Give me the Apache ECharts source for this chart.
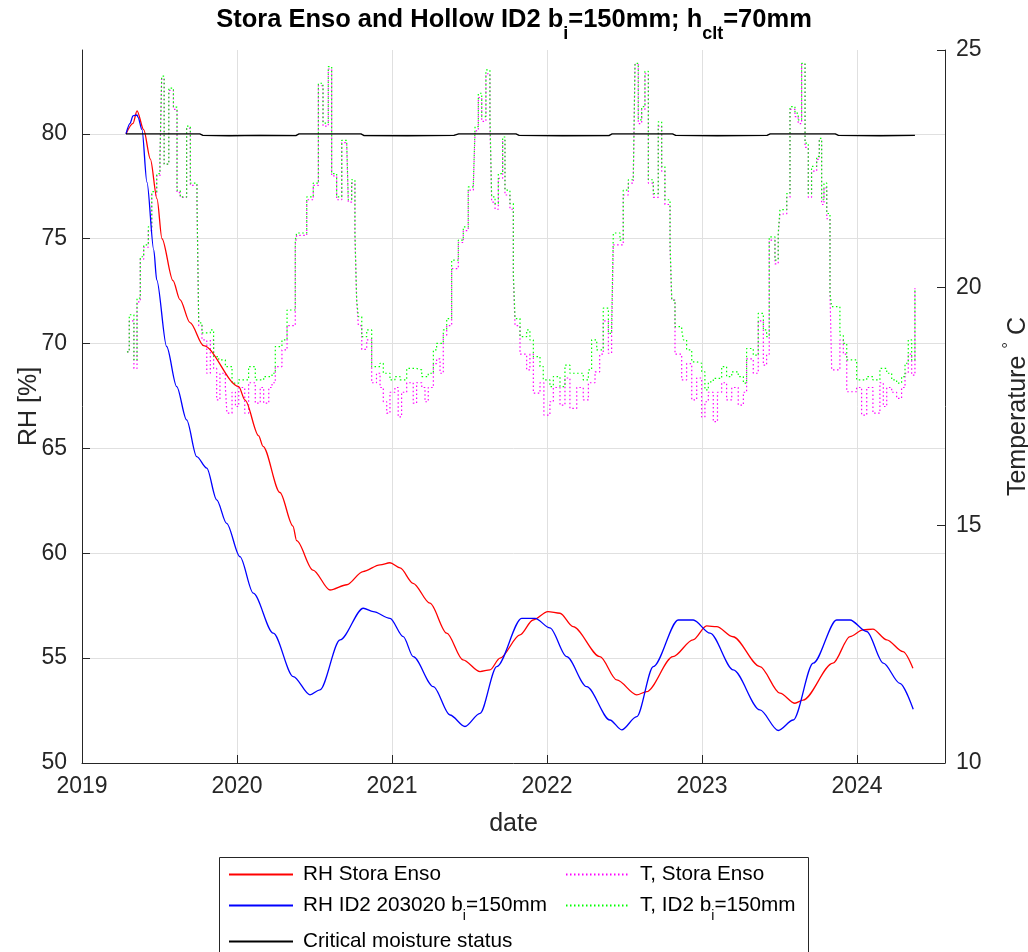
<!DOCTYPE html>
<html><head><meta charset="utf-8">
<script src="https://cdn.jsdelivr.net/npm/echarts@6/dist/echarts.min.js"></script>
<style>html,body{margin:0;padding:0;background:#fff}#c{width:1028px;height:952px}</style>
</head><body><div id="c"></div>
<script>
// x values are decimal years
const xTickYears = [2019, 2020, 2021, 2022, 2023, 2024];
const leftTicks = [50, 55, 60, 65, 70, 75, 80];
const rightTicks = [10, 15, 20, 25];

const rhStora = [
 [2019.284,80.0],[2019.329,80.5],[2019.355,81.1],[2019.398,80.2],[2019.441,78.8],[2019.484,76.9],
 [2019.516,75.0],[2019.587,73.0],[2019.632,72.1],[2019.697,71.0],[2019.785,69.9],[2020.011,67.95],
 [2020.052,67.3],[2020.140,65.6],[2020.168,65.1],[2020.277,62.9],[2020.361,61.3],[2020.385,60.6],
 [2020.490,59.2],[2020.600,58.25],[2020.708,58.5],[2020.813,59.13],[2020.923,59.45],[2020.987,59.55],
 [2021.052,59.3],[2021.136,58.57],[2021.245,57.62],[2021.353,56.19],[2021.458,54.92],[2021.568,54.36],
 [2021.632,54.44],[2021.697,55.0],[2021.826,56.11],[2021.910,56.82],[2022.006,57.22],[2022.084,57.14],
 [2022.168,56.5],[2022.342,55.07],[2022.450,53.96],[2022.579,53.25],[2022.643,53.4],[2022.813,55.07],
 [2022.942,55.87],[2023.030,56.54],[2023.095,56.5],[2023.200,56.02],[2023.374,54.6],[2023.503,53.33],
 [2023.600,52.85],[2023.652,53.0],[2023.845,54.76],[2023.955,56.03],[2024.039,56.35],[2024.103,56.38],
 [2024.192,55.87],[2024.297,55.31],[2024.361,54.52]
];

const rhId2 = [
 [2019.284,80.0],[2019.310,80.5],[2019.329,80.86],[2019.355,80.9],[2019.361,80.8],[2019.387,80.2],
 [2019.419,77.7],[2019.463,74.47],[2019.482,73.04],[2019.546,69.86],[2019.611,67.95],[2019.675,66.36],
 [2019.740,64.61],[2019.805,64.06],[2019.869,62.55],[2019.933,61.43],[2020.019,59.84],[2020.105,58.1],
 [2020.234,56.19],[2020.363,54.12],[2020.471,53.25],[2020.535,53.49],[2020.665,55.87],[2020.815,57.38],
 [2020.879,57.22],[2020.987,56.9],[2021.073,56.03],[2021.137,55.07],[2021.267,53.64],[2021.374,52.29],
 [2021.471,51.74],[2021.568,52.37],[2021.676,54.6],[2021.837,56.9],[2021.923,56.9],[2022.019,56.44],
 [2022.127,55.07],[2022.256,53.64],[2022.406,52.05],[2022.482,51.58],[2022.579,52.21],[2022.686,54.6],
 [2022.847,56.82],[2022.944,56.82],[2023.052,56.19],[2023.202,54.44],[2023.374,52.53],[2023.492,51.55],
 [2023.589,52.05],[2023.718,54.76],[2023.869,56.82],[2023.955,56.82],[2024.063,56.27],[2024.170,54.76],
 [2024.277,53.8],[2024.363,52.56]
];

const critical = [
 [2019.284,80.0],[2019.760,80.0],[2019.780,79.93],[2019.950,79.91],[2020.150,79.93],[2020.380,79.92],
 [2020.400,80.0],[2020.800,80.0],[2020.820,79.92],[2021.100,79.91],[2021.400,79.93],[2021.430,80.0],
 [2021.800,80.0],[2021.820,79.93],[2022.100,79.91],[2022.400,79.92],[2022.420,80.0],[2022.810,80.0],
 [2022.830,79.93],[2023.100,79.91],[2023.420,79.93],[2023.440,80.0],[2023.860,80.0],[2023.880,79.93],
 [2024.150,79.91],[2024.374,79.93]
];

const tStora = [
 [2019.290,18.65],[2019.305,19.3],[2019.335,18.3],[2019.355,19.7],[2019.376,20.6],[2019.398,20.85],
 [2019.428,21.2],[2019.450,21.95],[2019.482,22.35],[2019.503,22.7],[2019.514,24.4],[2019.530,22.6],
 [2019.560,24.15],[2019.590,23.75],[2019.613,22.0],[2019.634,21.9],[2019.675,23.35],[2019.699,22.15],
 [2019.742,21.8],[2019.753,19.2],[2019.774,18.9],[2019.805,18.2],[2019.828,18.9],[2019.849,18.3],
 [2019.869,17.64],[2019.890,18.2],[2019.925,17.9],[2019.935,17.36],[2019.968,17.8],[2019.990,17.5],
 [2020.011,17.9],[2020.050,17.36],[2020.075,18.0],[2020.118,17.57],[2020.150,17.9],[2020.172,17.57],
 [2020.205,17.9],[2020.226,18.0],[2020.247,18.34],[2020.290,18.69],[2020.323,19.2],[2020.376,20.9],
 [2020.385,21.1],[2020.450,21.85],[2020.492,22.15],[2020.525,24.25],[2020.555,23.4],[2020.589,24.6],
 [2020.611,22.35],[2020.643,21.85],[2020.676,23.05],[2020.708,23.0],[2020.718,21.8],[2020.740,22.2],
 [2020.761,21.1],[2020.772,19.74],[2020.783,19.2],[2020.805,18.7],[2020.837,18.9],[2020.869,18.0],
 [2020.900,18.2],[2020.923,17.9],[2020.944,17.6],[2020.966,17.36],[2020.987,17.8],[2021.019,17.9],
 [2021.040,17.28],[2021.062,17.8],[2021.095,18.0],[2021.137,17.57],[2021.159,18.0],[2021.192,17.9],
 [2021.213,17.6],[2021.234,17.9],[2021.267,18.4],[2021.288,18.5],[2021.310,18.2],[2021.331,19.0],
 [2021.353,19.2],[2021.385,20.4],[2021.428,20.95],[2021.460,21.2],[2021.492,22.05],[2021.525,22.15],
 [2021.536,23.3],[2021.557,24.0],[2021.579,23.5],[2021.606,24.5],[2021.632,23.5],[2021.643,21.8],
 [2021.665,21.65],[2021.686,22.3],[2021.714,23.1],[2021.729,21.95],[2021.761,21.65],[2021.783,20.2],
 [2021.794,19.2],[2021.826,18.6],[2021.869,18.27],[2021.890,18.6],[2021.912,17.78],[2021.955,18.0],
 [2021.980,17.32],[2022.019,17.6],[2022.041,17.9],[2022.084,17.53],[2022.116,18.1],[2022.148,17.46],
 [2022.192,17.9],[2022.234,17.64],[2022.267,18.0],[2022.310,18.23],[2022.340,18.6],[2022.363,19.3],
 [2022.396,18.62],[2022.417,19.0],[2022.428,20.9],[2022.471,20.9],[2022.492,21.95],[2022.525,22.2],
 [2022.557,22.3],[2022.568,24.7],[2022.589,23.45],[2022.611,23.75],[2022.632,24.5],[2022.654,22.2],
 [2022.686,21.9],[2022.718,23.4],[2022.740,22.45],[2022.761,21.75],[2022.794,20.85],[2022.805,19.74],
 [2022.826,18.6],[2022.869,18.06],[2022.901,18.4],[2022.934,17.64],[2022.966,18.1],[2022.998,17.28],
 [2023.019,17.6],[2023.041,17.8],[2023.073,17.18],[2023.100,17.8],[2023.127,18.0],[2023.159,17.64],
 [2023.192,17.9],[2023.234,17.53],[2023.267,17.8],[2023.288,18.5],[2023.331,18.2],[2023.363,19.3],
 [2023.396,18.37],[2023.417,18.6],[2023.434,21.0],[2023.471,20.5],[2023.492,21.1],[2023.503,21.55],
 [2023.547,21.9],[2023.568,23.75],[2023.600,23.6],[2023.621,23.45],[2023.643,24.7],[2023.665,22.95],
 [2023.686,21.9],[2023.707,22.45],[2023.740,22.7],[2023.757,23.1],[2023.772,21.75],[2023.787,22.1],
 [2023.805,21.45],[2023.826,19.88],[2023.837,18.27],[2023.890,18.9],[2023.912,18.6],[2023.934,17.81],
 [2023.998,17.9],[2024.030,17.32],[2024.063,17.9],[2024.103,17.36],[2024.148,18.0],[2024.170,17.5],
 [2024.192,17.9],[2024.224,17.8],[2024.256,17.67],[2024.288,17.9],[2024.310,18.2],[2024.331,18.6],
 [2024.353,18.16],[2024.374,19.99]
];

const tId2 = [
 [2019.290,18.65],[2019.305,19.43],[2019.335,18.48],[2019.355,19.78],[2019.376,20.65],[2019.398,20.9],
 [2019.428,21.28],[2019.450,22.02],[2019.482,22.4],[2019.503,22.76],[2019.514,24.45],[2019.530,22.6],
 [2019.560,24.2],[2019.590,23.8],[2019.613,22.05],[2019.634,21.91],[2019.675,23.4],[2019.699,22.2],
 [2019.742,21.8],[2019.753,19.26],[2019.774,19.05],[2019.828,19.11],[2019.849,18.55],[2019.882,18.48],
 [2019.925,18.34],[2019.968,17.99],[2020.011,18.06],[2020.075,18.34],[2020.118,18.06],[2020.172,18.13],
 [2020.226,18.2],[2020.247,18.76],[2020.290,18.9],[2020.323,19.53],[2020.376,21.0],[2020.385,21.15],
 [2020.450,21.91],[2020.492,22.2],[2020.525,24.3],[2020.555,23.46],[2020.589,24.65],[2020.611,22.4],
 [2020.643,21.91],[2020.676,23.1],[2020.708,23.04],[2020.718,21.85],[2020.740,22.27],[2020.761,21.15],
 [2020.772,19.74],[2020.783,19.39],[2020.805,18.97],[2020.837,19.11],[2020.869,18.34],[2020.923,18.41],
 [2020.944,18.2],[2020.987,18.06],[2021.019,18.13],[2021.052,18.06],[2021.095,18.3],[2021.159,18.27],
 [2021.192,18.13],[2021.234,18.2],[2021.267,18.69],[2021.288,18.83],[2021.331,19.11],[2021.353,19.35],
 [2021.385,20.58],[2021.428,21.0],[2021.460,21.28],[2021.492,22.12],[2021.525,22.2],[2021.536,23.39],
 [2021.557,24.09],[2021.579,23.6],[2021.606,24.58],[2021.632,23.6],[2021.643,21.91],[2021.665,21.77],
 [2021.686,22.4],[2021.714,23.17],[2021.729,22.05],[2021.761,21.77],[2021.783,20.3],[2021.794,19.35],
 [2021.826,18.97],[2021.869,19.11],[2021.890,18.9],[2021.912,18.55],[2021.955,18.34],[2021.976,18.06],
 [2022.019,17.92],[2022.041,18.13],[2022.084,17.92],[2022.116,18.37],[2022.148,18.2],[2022.192,18.2],
 [2022.234,18.06],[2022.267,18.27],[2022.288,18.9],[2022.321,18.69],[2022.363,19.57],[2022.396,19.04],
 [2022.417,19.18],[2022.428,21.15],[2022.471,21.0],[2022.492,22.05],[2022.525,22.27],[2022.557,22.34],
 [2022.568,24.72],[2022.589,23.53],[2022.611,23.81],[2022.632,24.55],[2022.654,22.27],[2022.686,21.98],
 [2022.718,23.49],[2022.740,22.55],[2022.761,21.85],[2022.794,20.93],[2022.805,19.74],[2022.826,19.18],
 [2022.869,19.11],[2022.880,18.9],[2022.901,18.69],[2022.934,18.44],[2022.966,18.41],[2022.998,18.23],
 [2023.019,17.85],[2023.041,18.02],[2023.073,18.09],[2023.127,18.34],[2023.159,18.13],[2023.192,18.23],
 [2023.234,18.13],[2023.267,17.99],[2023.288,18.72],[2023.331,18.58],[2023.363,19.46],[2023.396,19.11],
 [2023.417,18.97],[2023.434,21.07],[2023.471,20.58],[2023.492,21.15],[2023.503,21.64],[2023.547,21.98],
 [2023.568,23.81],[2023.600,23.67],[2023.621,23.53],[2023.643,24.72],[2023.665,23.04],[2023.686,21.98],
 [2023.707,22.55],[2023.740,22.76],[2023.757,23.14],[2023.772,21.85],[2023.787,22.2],[2023.805,21.56],
 [2023.826,19.88],[2023.837,19.6],[2023.890,19.0],[2023.912,18.83],[2023.934,18.48],[2023.998,18.06],
 [2024.063,18.13],[2024.103,18.06],[2024.148,18.3],[2024.192,18.2],[2024.224,18.06],[2024.256,17.99],
 [2024.288,18.13],[2024.310,18.41],[2024.331,18.9],[2024.353,18.48],[2024.374,19.99]
];

const FF = '"Liberation Sans", Arial, Helvetica, sans-serif';
const AX = '#262626';
const chart = echarts.init(document.getElementById('c'), null, {renderer: 'canvas'});

const legendText = {fontFamily: FF, fontSize: 20.7, color: '#000', padding: [0,0,0,5],
  rich: {
    m: {fontFamily: FF, fontSize: 20.7, color: '#000'},
    sub: {fontFamily: FF, fontSize: 14, color: '#000', padding: [22,0,0,0]}
  }};
function lg(name, left, top) {
  return {data: [name], left: left, top: top, padding: 0, itemWidth: 64, itemHeight: 14,
    textStyle: legendText, selectedMode: false,
    itemStyle: {opacity: 0},
    formatter: function (n) {
      if (n.indexOf('b_i') >= 0) {
        const parts = n.split('b_i');
        return '{m|' + parts[0] + 'b}{sub|i}{m|' + parts[1] + '}';
      }
      return n;
    }};
}

const option = {
  animation: false,
  backgroundColor: '#fff',
  title: {
    text: '{m|Stora Enso and Hollow ID2 b}{sub|i}{m|=150mm; h}{sub|clt}{m|=70mm}',
    left: 'center', top: -3, padding: 0,
    textStyle: {fontFamily: FF, fontSize: 25.5, fontWeight: 'bold', color: '#000',
      rich: {
        m: {fontFamily: FF, fontSize: 25.5, fontWeight: 'bold', color: '#000'},
        sub: {fontFamily: FF, fontSize: 18, fontWeight: 'bold', color: '#000', padding: [28,0,0,0]}
      }}
  },
  grid: {left: 82, right: 83, top: 50, bottom: 189, containLabel: false, outerBoundsMode: 'none'},
  legend: [
    lg('RH Stora Enso', 228, 864),
    lg('RH ID2 203020 b_i=150mm', 228, 895),
    lg('Critical moisture status', 228, 931),
    lg('T, Stora Enso', 565, 864),
    lg('T, ID2 b_i=150mm', 565, 895)
  ],
  graphic: [{
    type: 'rect', left: 219, top: 857, z: -10,
    shape: {width: 589, height: 120},
    style: {fill: '#fff', stroke: AX, lineWidth: 1}
  }],
  xAxis: {
    type: 'value', min: 2019, max: 2024.568, interval: 1,
    name: 'date', nameLocation: 'middle', nameGap: 49, nameMoveOverlap: false,
    nameTextStyle: {fontFamily: FF, fontSize: 25, color: AX},
    axisLine: {show: true, lineStyle: {color: AX, width: 1}},
    axisTick: {show: true, inside: true, length: 8, lineStyle: {color: AX}, customValues: xTickYears},
    axisLabel: {fontFamily: FF, fontSize: 23, color: AX, margin: 12, customValues: xTickYears,
      formatter: function (v) { return String(Math.round(v)); }},
    splitLine: {show: true, lineStyle: {color: '#e0e0e0', width: 1}}
  },
  yAxis: [
    {
      type: 'value', position: 'left', min: 50, max: 84, interval: 5,
      name: 'RH [%]', nameLocation: 'middle', nameGap: 40, nameMoveOverlap: false,
      nameTextStyle: {fontFamily: FF, fontSize: 25, color: AX},
      axisLine: {show: true, lineStyle: {color: AX, width: 1}},
      axisTick: {show: true, inside: true, length: 8, lineStyle: {color: AX}, customValues: leftTicks},
      axisLabel: {fontFamily: FF, fontSize: 23, color: AX, margin: 15, customValues: leftTicks,
        formatter: function (v) { return String(v); }},
      splitLine: {show: true, lineStyle: {color: '#e0e0e0', width: 1}}
    },
    {
      type: 'value', position: 'right', min: 10, max: 25, interval: 5,
      name: 'Temperature {sup|°} C', nameLocation: 'middle', nameGap: 56, nameMoveOverlap: false,
      nameTextStyle: {fontFamily: FF, fontSize: 25, color: AX,
        rich: {sup: {fontFamily: FF, fontSize: 17, color: AX, padding: [0,0,18,0]}}},
      axisLine: {show: true, lineStyle: {color: AX, width: 1}},
      axisTick: {show: true, inside: true, length: 8, lineStyle: {color: AX}, customValues: rightTicks},
      axisLabel: {fontFamily: FF, fontSize: 23, color: AX, margin: 11, customValues: rightTicks,
        formatter: function (v) { return String(v); }},
      splitLine: {show: false}
    }
  ],
  series: [
    {name: 'RH Stora Enso', type: 'line', yAxisIndex: 0, data: rhStora, symbol: 'none',
      smooth: 0.3, smoothMonotone: 'x',
      lineStyle: {color: '#ff0000', width: 1.3}, itemStyle: {color: '#ff0000'}, z: 3},
    {name: 'T, Stora Enso', type: 'line', yAxisIndex: 1, data: tStora, symbol: 'none', step: 'end',
      lineStyle: {color: '#ff00ff', width: 1.2, type: [1.5, 2.5]}, itemStyle: {color: '#ff00ff'}, z: 2},
    {name: 'RH ID2 203020 b_i=150mm', type: 'line', yAxisIndex: 0, data: rhId2, symbol: 'none',
      smooth: 0.3, smoothMonotone: 'x',
      lineStyle: {color: '#0000ff', width: 1.3}, itemStyle: {color: '#0000ff'}, z: 3},
    {name: 'T, ID2 b_i=150mm', type: 'line', yAxisIndex: 1, data: tId2, symbol: 'none', step: 'end',
      lineStyle: {color: '#00ff00', width: 1.2, type: [1.5, 2.5]}, itemStyle: {color: '#00ff00'}, z: 2},
    {name: 'Critical moisture status', type: 'line', yAxisIndex: 0, data: critical, symbol: 'none',
      lineStyle: {color: '#000000', width: 1.3}, itemStyle: {color: '#000000'}, z: 3}
  ]
};
chart.setOption(option);
</script>
</body></html>
